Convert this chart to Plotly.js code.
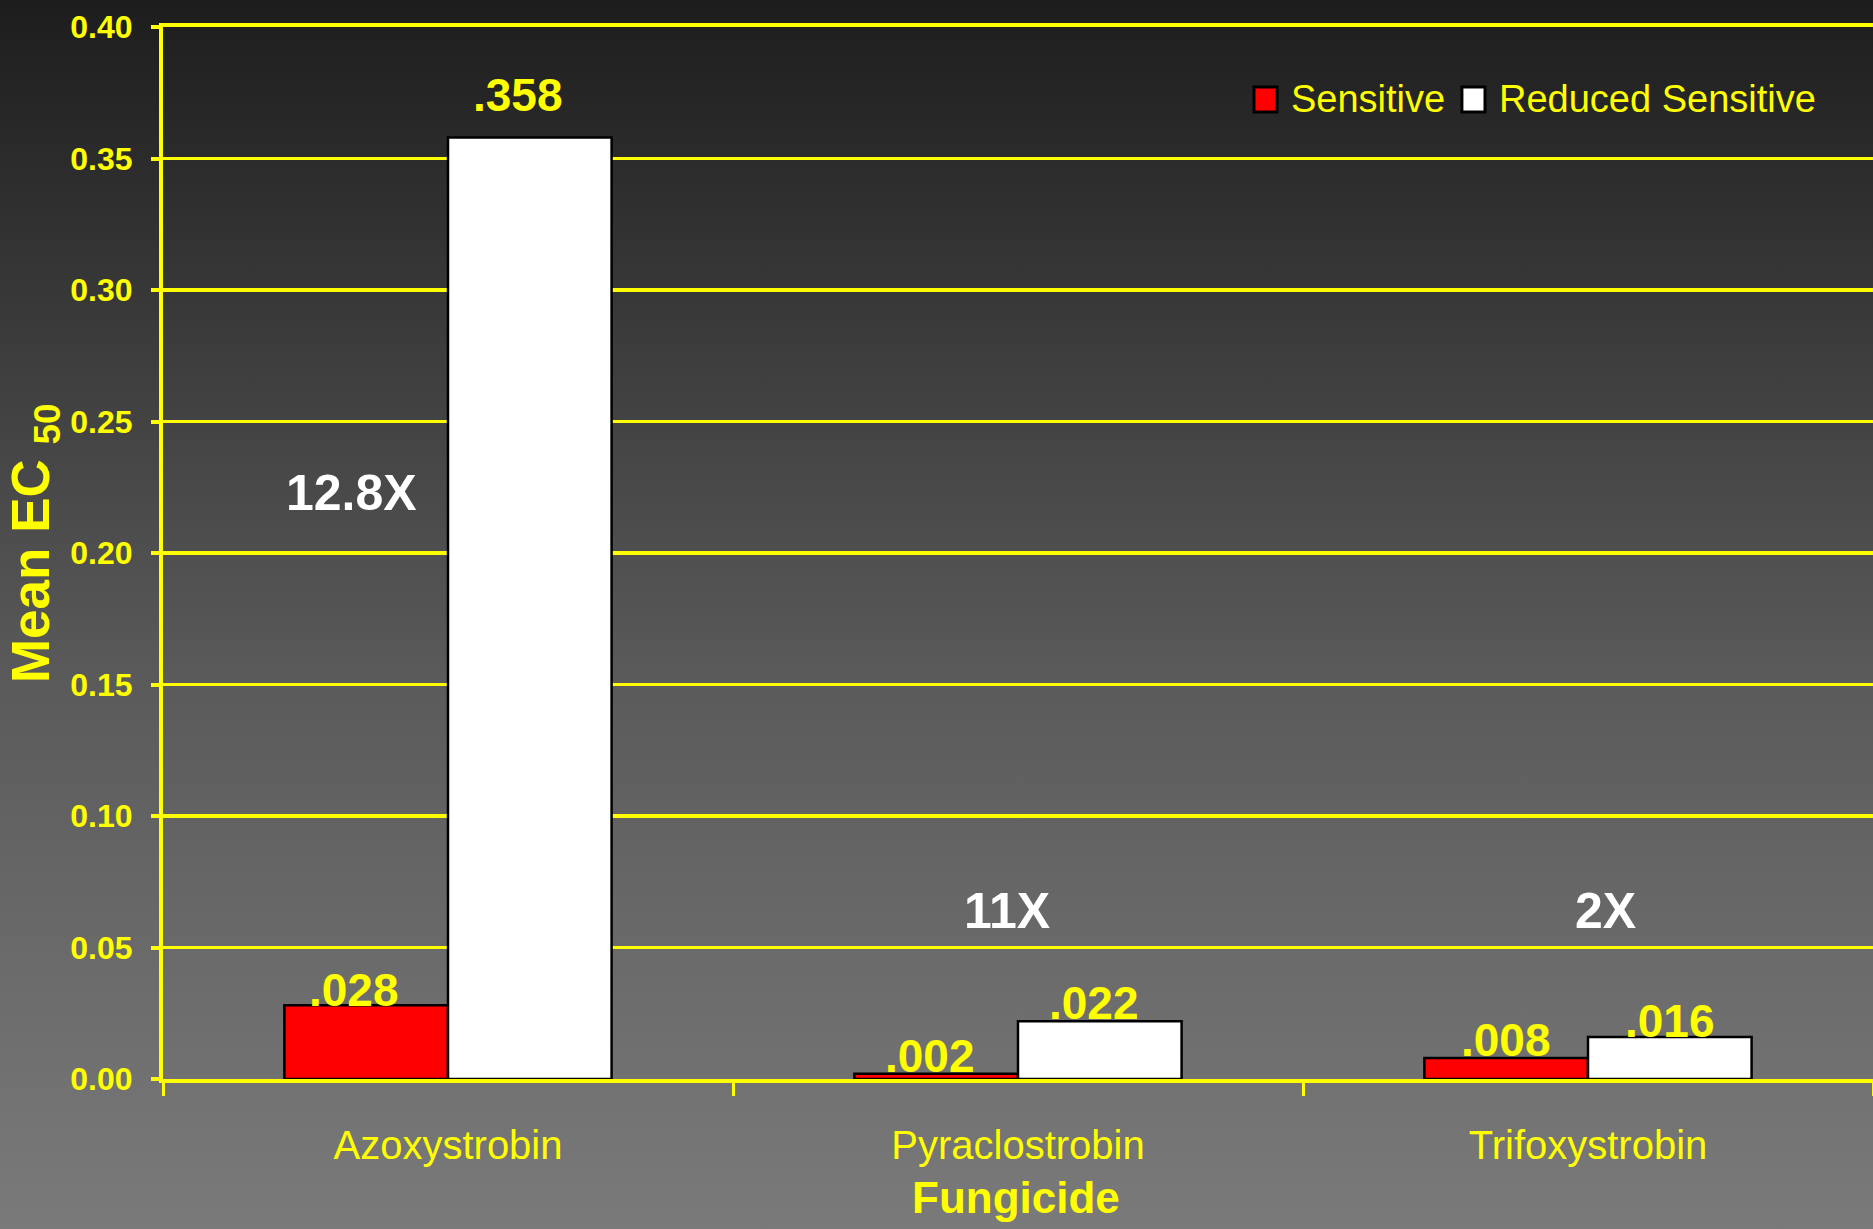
<!DOCTYPE html>
<html>
<head>
<meta charset="utf-8">
<script src="https://cdn.plot.ly/plotly-3.0.1.min.js"></script>
<style>
  html, body { margin: 0; padding: 0; }
  body { width: 1873px; height: 1229px; background: linear-gradient(to bottom, #1d1d1d 0%, #5a5a5a 55%, #7a7a7a 100%); overflow: hidden; }
  #chart { width: 1873px; height: 1229px; }
</style>
</head>
<body>
<div id="chart"></div>
<script>
const categories = ['Azoxystrobin', 'Pyraclostrobin', 'Trifoxystrobin'];
const seriesNames = ['Sensitive', 'Reduced Sensitive'];
const sensitive = [0.028, 0.002, 0.008];
const reducedSensitive = [0.358, 0.022, 0.016];
const sensitiveLabels = ['.028', '.002', '.008'];
const reducedLabels = ['.358', '.022', '.016'];
const ratioLabels = ['12.8X', '11X', '2X'];
const yTickValues = [0, 0.05, 0.10, 0.15, 0.20, 0.25, 0.30, 0.35, 0.40];

const FONT = 'Liberation Sans, Arial, sans-serif';
const YEL = '#ffff00';
const COLORS = ['#ff0000', '#ffffff'];

const W = 1873, H = 1229;
const M = { l: 163, r: 0, t: 27, b: 150 };
const BARGAP = 0.426;

const traces = [
  {
    type: 'bar', name: seriesNames[0], x: categories, y: sensitive,
    marker: { color: COLORS[0], line: { color: '#000000', width: 2.5 } },
    hoverinfo: 'skip', showlegend: false
  },
  {
    type: 'bar', name: seriesNames[1], x: categories, y: reducedSensitive,
    marker: { color: COLORS[1], line: { color: '#000000', width: 2.5 } },
    hoverinfo: 'skip', showlegend: false
  }
];

// value labels above each bar (pixel offsets are styling only)
const catWidthPx = (W - M.l - M.r) / categories.length;
const barHalfOffset = catWidthPx * (1 - BARGAP) / 4;
const labelLift = [[15, 18, 18], [42, 18, 16]];
const labelNudge = [-12, -6, 0];
const annotations = [];
const shapes = [];
[[sensitive, sensitiveLabels], [reducedSensitive, reducedLabels]].forEach(([vals, labs], s) => {
  vals.forEach((v, i) => {
    annotations.push({
      text: labs[i], x: categories[i], y: v, xref: 'x', yref: 'y',
      xshift: (s === 0 ? -barHalfOffset : barHalfOffset) + labelNudge[i], yshift: labelLift[s][i],
      showarrow: false, xanchor: 'center', yanchor: 'middle',
      font: { family: FONT, size: 46, color: YEL, weight: 'bold' }
    });
  });
});

// ratio annotations (axis units)
const ratioPos = [{ x: -0.17, y: 0.223 }, { x: 0.98, y: 0.064 }, { x: 2.03, y: 0.064 }];
ratioLabels.forEach((t, i) => annotations.push({
  text: t, x: ratioPos[i].x, y: ratioPos[i].y, xref: 'x', yref: 'y',
  showarrow: false, xanchor: 'center', yanchor: 'middle',
  font: { family: FONT, size: 50, color: '#ffffff', weight: 'bold' }
}));

// axis titles
annotations.push({
  text: 'Fungicide', xref: 'paper', yref: 'paper', x: 0.499, y: -0.1131,
  showarrow: false, xanchor: 'center', yanchor: 'middle',
  font: { family: FONT, size: 44, color: YEL, weight: 'bold' }
});
annotations.push({
  text: 'Mean EC <sub>50</sub>', xref: 'paper', yref: 'paper', x: -0.0754, y: 0.5095,
  textangle: -90, showarrow: false, xanchor: 'center', yanchor: 'middle',
  font: { family: FONT, size: 53, color: YEL, weight: 'bold' }
});

// legend (swatches + labels), in plot-area fractions
const legendItems = [
  { x0: 0.6380, x1: 0.6515, tx: 0.6585 },
  { x0: 0.7596, x1: 0.7731, tx: 0.7800 }
];
legendItems.forEach((it, s) => {
  shapes.push({
    type: 'rect', xref: 'paper', yref: 'paper', x0: it.x0, x1: it.x1, y0: 0.9192, y1: 0.9430,
    fillcolor: COLORS[s], line: { color: '#000000', width: 3 }, layer: 'above'
  });
  annotations.push({
    text: seriesNames[s], xref: 'paper', yref: 'paper', x: it.tx, y: 0.9316,
    showarrow: false, xanchor: 'left', yanchor: 'middle',
    font: { family: FONT, size: 38, color: YEL }
  });
});

const layout = {
  width: W, height: H,
  margin: { l: M.l, r: M.r, t: M.t, b: M.b, pad: 0 },
  paper_bgcolor: 'rgba(0,0,0,0)',
  plot_bgcolor: 'rgba(0,0,0,0)',
  barmode: 'group', bargap: BARGAP, bargroupgap: 0,
  showlegend: false,
  xaxis: {
    type: 'category', range: [-0.5, 2.5], tickson: 'boundaries',
    ticks: 'outside', ticklen: 13, tickwidth: 3, tickcolor: YEL,
    showline: true, linecolor: YEL, linewidth: 4, mirror: true,
    showgrid: false, zeroline: false,
    tickfont: { family: FONT, size: 40, color: YEL },
    ticklabelstandoff: 28
  },
  yaxis: {
    range: [0, 0.4], tickmode: 'array', tickvals: yTickValues,
    ticktext: yTickValues.map(v => v.toFixed(2)),
    ticks: 'outside', ticklen: 8, tickwidth: 4, tickcolor: YEL,
    showline: true, linecolor: YEL, linewidth: 4,
    showgrid: true, gridcolor: YEL, gridwidth: 3.5, zeroline: false,
    tickfont: { family: FONT, size: 32, color: YEL, weight: 'bold' },
    ticklabelstandoff: 12
  },
  shapes: shapes,
  annotations: annotations
};

Plotly.newPlot('chart', traces, layout, { displayModeBar: false, staticPlot: true });
</script>
</body>
</html>
